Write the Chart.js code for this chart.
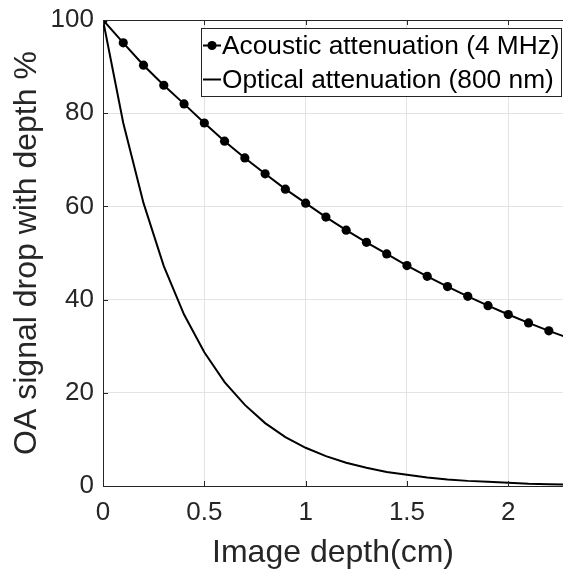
<!DOCTYPE html>
<html>
<head>
<meta charset="utf-8">
<script src="https://cdn.jsdelivr.net/npm/chart.js@4.4.1/dist/chart.umd.min.js"></script>
<style>
  html, body { margin: 0; padding: 0; background: #ffffff; }
  #wrap { width: 563px; height: 569px; position: relative; }
</style>
</head>
<body>
<div id="wrap"><canvas id="c" width="563" height="569"></canvas></div>
<script>
// Depth samples (cm)
const depths = [0, 0.1, 0.2, 0.3, 0.4, 0.5, 0.6, 0.7, 0.8, 0.9, 1.0, 1.1, 1.2, 1.3, 1.4, 1.5, 1.6, 1.7, 1.8, 1.9, 2.0, 2.1, 2.2, 2.3];
// Acoustic attenuation (4 MHz), % signal remaining
const acousticValues = [100, 95.1, 90.3, 86.0, 82.0, 77.9, 74.0, 70.4, 67.0, 63.7, 60.7, 57.7, 54.9, 52.3, 49.8, 47.3, 45.0, 42.8, 40.7, 38.7, 36.8, 35.0, 33.3, 31.7];
// Optical attenuation (800 nm), % signal remaining
const opticalValues = [100, 77.9, 60.7, 47.2, 36.8, 28.7, 22.3, 17.4, 13.5, 10.5, 8.2, 6.4, 5.0, 3.9, 3.0, 2.4, 1.8, 1.4, 1.1, 0.9, 0.7, 0.5, 0.4, 0.3];
const seriesNames = ['Acoustic attenuation (4 MHz)', 'Optical attenuation (800 nm)'];
const xTicks = [0, 0.5, 1, 1.5, 2];
const yTicks = [0, 20, 40, 60, 80, 100];
const xTitle = 'Image depth(cm)';
const yTitle = 'OA signal drop with depth %';

const FONT = '"Liberation Sans", Arial, Helvetica, sans-serif';
const TXT = '#262626';
const AXIS = '#262626';
const GRID = '#e3e3e3';

const toXY = (vals) => depths.map((d, i) => ({ x: d, y: vals[i] }));

const frameAndTicks = {
  id: 'frameAndTicks',
  afterDatasetsDraw(chart) {
    const { ctx, chartArea: a, scales: { x, y } } = chart;
    ctx.save();
    ctx.strokeStyle = AXIS;
    ctx.lineWidth = 1;
    ctx.beginPath();
    // top border
    ctx.moveTo(a.left, a.top + 0.5);
    ctx.lineTo(a.right, a.top + 0.5);
    // inward tick marks
    const tl = 5;
    xTicks.forEach(v => {
      const px = Math.round(x.getPixelForValue(v)) + 0.5;
      ctx.moveTo(px, a.bottom); ctx.lineTo(px, a.bottom - tl);
      ctx.moveTo(px, a.top); ctx.lineTo(px, a.top + tl);
    });
    yTicks.forEach(v => {
      const py = Math.round(y.getPixelForValue(v)) + 0.5;
      ctx.moveTo(a.left, py); ctx.lineTo(a.left + tl, py);
    });
    ctx.stroke();
    ctx.restore();
  }
};

const boxLegend = {
  id: 'boxLegend',
  afterDraw(chart) {
    const { ctx } = chart;
    const ds = chart.data.datasets;
    const bx = 201.5, by = 28.5, bw = 360, bh = 68;
    ctx.save();
    ctx.fillStyle = '#ffffff';
    ctx.fillRect(bx, by, bw, bh);
    ctx.strokeStyle = AXIS;
    ctx.lineWidth = 1;
    ctx.strokeRect(bx, by, bw, bh);
    const rows = [45.5, 79.5];
    ds.forEach((d, i) => {
      const ry = rows[i];
      ctx.strokeStyle = d.borderColor;
      ctx.lineWidth = d.borderWidth;
      ctx.beginPath();
      ctx.moveTo(203, ry); ctx.lineTo(221, ry);
      ctx.stroke();
      if (d.pointRadius > 0) {
        ctx.fillStyle = d.pointBackgroundColor;
        ctx.beginPath();
        ctx.arc(212, ry, d.pointRadius, 0, Math.PI * 2);
        ctx.fill();
      }
      ctx.fillStyle = '#000000';
      ctx.font = '26.3px ' + FONT;
      ctx.textBaseline = 'middle';
      ctx.textAlign = 'left';
      ctx.fillText(d.label, 222, ry + 1);
    });
    ctx.restore();
  }
};

new Chart(document.getElementById('c'), {
  type: 'line',
  data: {
    datasets: [
      {
        label: seriesNames[0],
        data: toXY(acousticValues),
        borderColor: '#000000',
        backgroundColor: '#000000',
        pointBackgroundColor: '#000000',
        pointBorderColor: '#000000',
        borderWidth: 2,
        pointRadius: 4.6,
        pointBorderWidth: 0,
        tension: 0,
        fill: false
      },
      {
        label: seriesNames[1],
        data: toXY(opticalValues),
        borderColor: '#000000',
        backgroundColor: '#000000',
        pointBackgroundColor: '#000000',
        borderWidth: 2,
        pointRadius: 0,
        tension: 0,
        fill: false
      }
    ]
  },
  options: {
    responsive: false,
    animation: false,
    devicePixelRatio: 1,
    layout: { autoPadding: false, padding: { top: 20, right: 0, left: 0, bottom: 0 } },
    plugins: {
      legend: { display: false },
      tooltip: { enabled: false }
    },
    scales: {
      x: {
        type: 'linear',
        min: 0,
        max: 2.27,
        afterFit(s) { s.height = 83; s.paddingLeft = 0; s.paddingRight = 0; },
        afterBuildTicks(s) { s.ticks = xTicks.map(v => ({ value: v })); },
        ticks: {
          includeBounds: false,
          color: TXT,
          font: { family: FONT, size: 26 },
          padding: 11,
          maxRotation: 0,
          autoSkip: false,
          callback: (v) => String(v)
        },
        grid: { color: GRID, drawTicks: false, lineWidth: 1 },
        border: { display: true, color: AXIS, width: 1 },
        title: {
          display: true,
          text: xTitle,
          color: TXT,
          font: { family: FONT, size: 32, lineHeight: 1 },
          padding: { top: 0, bottom: 0 }
        }
      },
      y: {
        type: 'linear',
        min: 0,
        max: 100,
        afterFit(s) { s.width = 103; s.paddingTop = 0; s.paddingBottom = 0; },
        afterBuildTicks(s) { s.ticks = yTicks.map(v => ({ value: v })); },
        ticks: {
          color: TXT,
          font: { family: FONT, size: 26 },
          padding: 9,
          autoSkip: false,
          callback: (v) => String(v)
        },
        grid: { color: GRID, drawTicks: false, lineWidth: 1 },
        border: { display: true, color: AXIS, width: 1 },
        title: {
          display: true,
          text: yTitle,
          color: TXT,
          font: { family: FONT, size: 32, lineHeight: 1 },
          padding: { top: 11, bottom: 0 }
        }
      }
    }
  },
  plugins: [frameAndTicks, boxLegend]
});
</script>
</body>
</html>
